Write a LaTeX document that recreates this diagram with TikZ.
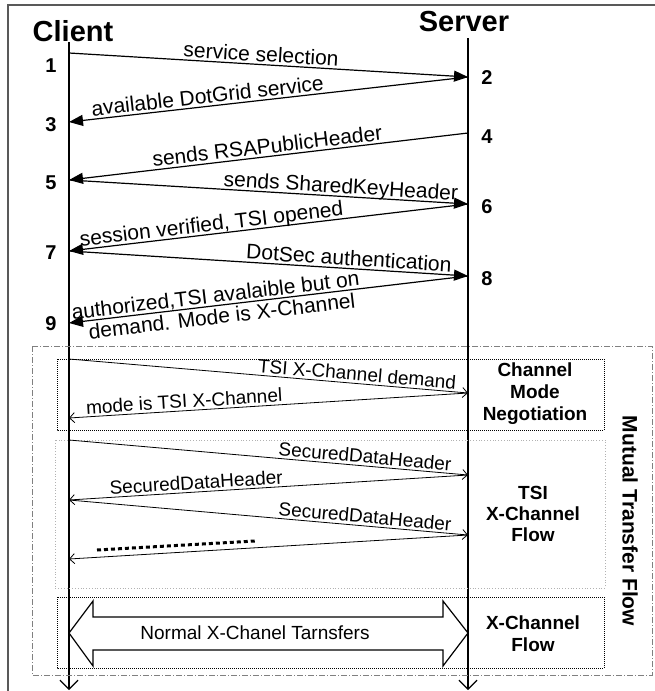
\documentclass[tikz,border=0pt]{standalone}
\usepackage{fontspec}
\setmainfont{Liberation Sans}
\usetikzlibrary{arrows.meta}

\tikzset{
  msg/.style={line width=1.2pt, -{Triangle[length=14pt,width=11pt]}},
  tmsg/.style={line width=0.8pt, -{Straight Barb[length=5pt,width=10pt]}},
  life/.style={line width=1.2pt, -{Straight Barb[length=9pt,width=18pt]}},
  lbl/.style={sloped, above, inner sep=2.5pt, text depth=0pt, font=\fontsize{21}{23}\selectfont},
  tlbl/.style={sloped, above, inner sep=2.5pt, text depth=0pt, font=\fontsize{19}{21}\selectfont},
  num/.style={font=\fontsize{20}{22}\selectfont\bfseries},
  side/.style={align=center, font=\fontsize{19}{22}\selectfont\bfseries},
  title/.style={font=\fontsize{29}{31}\selectfont\bfseries}
}

\begin{document}
\begin{tikzpicture}[x=1pt,y=-1pt]

      \useasboundingbox (0,0) rectangle (655,691);
      \draw[gray!70!black, line width=1.5pt] (655,5) -- (8,5) -- (8,691);

      \node[title] (client) at (73,31) {Client};
      \node[title] (server) at (464,22) {Server};

      \coordinate (ctop) at (69,42);
      \coordinate (stop) at (468,38);
      \coordinate (cend) at (69,690);
      \coordinate (send) at (468,690);
      \draw[life] (ctop) to (cend);
      \draw[life] (stop) to (send);

      \coordinate (c1) at (69,53);
      \coordinate (s2) at (468,77);
      \coordinate (c3) at (69,122);
      \coordinate (s4) at (468,133);
      \coordinate (c5) at (69,180);
      \coordinate (s6) at (468,204);
      \coordinate (c7) at (69,251);
      \coordinate (s8) at (468,276);
      \coordinate (c9) at (69,323);

      \node[num] (n1) at (51,66)  {1};
      \node[num] (n2) at (487,78) {2};
      \node[num] (n3) at (51,125) {3};
      \node[num] (n4) at (487,137) {4};
      \node[num] (n5) at (51,183) {5};
      \node[num] (n6) at (487,207) {6};
      \node[num] (n7) at (51,253) {7};
      \node[num] (n8) at (487,279) {8};
      \node[num] (n9) at (51,324) {9};

      \draw[msg] (c1) to node[lbl, pos=0.48] {service selection} (s2);
      \draw[msg] (s2) to node[lbl, pos=0.65] {available DotGrid service} (c3);
      \draw[msg] (s4) to node[lbl, pos=0.50] {sends RSAPublicHeader} (c5);
      \draw[msg] (c5) to node[lbl, pos=0.68] {sends SharedKeyHeader} (s6);
      \draw[msg] (s6) to node[lbl, pos=0.64] {session verified, TSI opened} (c7);
      \draw[msg] (c7) to node[lbl, pos=0.70] {DotSec authentication} (s8);
      \draw[msg] (s8) to node[lbl, pos=0.63] {authorized,TSI avalaible but on}
            node[lbl, below, pos=0.62] {demand. Mode is X-Channel} (c9);

      % boxes
      \draw[gray, line width=0.8pt, dash pattern=on 6pt off 2pt on 1pt off 2pt] (32,346) rectangle (652,675);
      \draw[densely dotted, line width=1pt] (57,359) rectangle (604,430);
      \draw[dotted, gray!60, line width=0.8pt] (55,440) rectangle (605,588);
      \draw[densely dotted, line width=1pt] (57,597) rectangle (604,668);

      \coordinate (c10) at (69,359);
      \coordinate (s11) at (468,393);
      \coordinate (c12) at (69,418);
      \coordinate (c13) at (69,440);
      \coordinate (s14) at (468,475);
      \coordinate (c15) at (69,500);
      \coordinate (s16) at (468,535);
      \coordinate (c17) at (69,559);

      \draw[tmsg] (c10) to node[tlbl, pos=0.72] {TSI X-Channel demand} (s11);
      \draw[tmsg] (s11) to node[tlbl, pos=0.71] {mode is TSI X-Channel} (c12);
      \draw[tmsg] (c13) to node[tlbl, pos=0.74] {SecuredDataHeader} (s14);
      \draw[tmsg] (s14) to node[tlbl, pos=0.68] {SecuredDataHeader} (c15);
      \draw[tmsg] (c15) to node[tlbl, pos=0.74] {SecuredDataHeader} (s16);
      \draw[tmsg] (s16) to (c17);

      \coordinate (dl) at (97,550);
      \coordinate (dr) at (255,541);
      \draw[line width=3pt, dash pattern=on 4pt off 3pt] (dl) to (dr);

      % double arrow
      \draw[line width=1.2pt, line join=miter] (69,633) -- (93,601) -- (93,617) -- (443,617) -- (443,601)
            -- (468,633) -- (443,666) -- (443,650) -- (93,650) -- (93,666) -- cycle;
      \node[font=\fontsize{19}{21}\selectfont] (normal) at (255,633) {Normal X-Chanel Tarnsfers};

      \node[side] (cmn) at (535,394) {Channel\\Mode\\Negotiation};
      \node[side, font=\fontsize{19}{21}\selectfont\bfseries] (tsi) at (533,514) {TSI\\X-Channel\\Flow};
      \node[side] (xcf) at (533,634) {X-Channel\\Flow};
      \node[rotate=-90, font=\fontsize{21}{23}\selectfont\bfseries] (mtf) at (630,521) {Mutual Transfer Flow};
    \end{tikzpicture}
\end{document}
